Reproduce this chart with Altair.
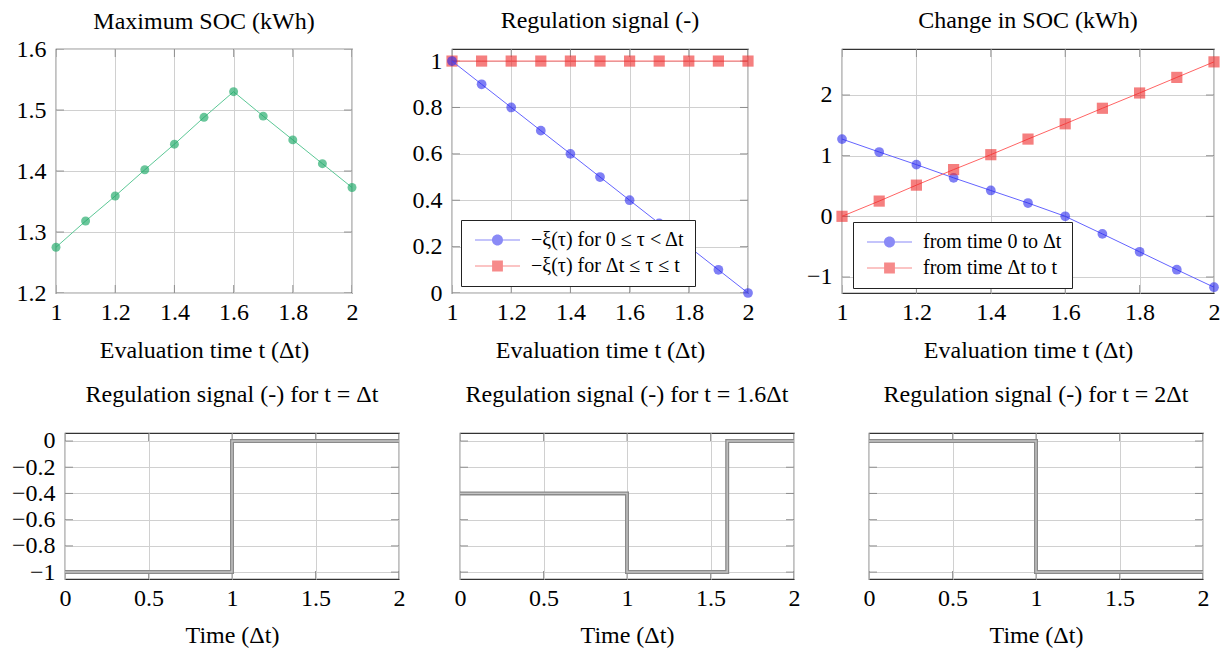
import altair as alt
import pandas as pd

FONT = "Liberation Serif"
FS = 24
LEG_FS = 20

# ---------------- data ----------------
eval_time = [1.0, 1.1, 1.2, 1.3, 1.4, 1.5, 1.6, 1.7, 1.8, 1.9, 2.0]
max_soc = [1.275, 1.318, 1.359, 1.402, 1.444, 1.488, 1.530, 1.490, 1.451, 1.412, 1.373]
reg_first = [1.0, 0.9, 0.8, 0.7, 0.6, 0.5, 0.4, 0.3, 0.2, 0.1, 0.0]
reg_rest = [1.0, 1.0, 1.0, 1.0, 1.0, 1.0, 1.0, 1.0, 1.0, 1.0, 1.0]
soc_first = [1.273, 1.060, 0.852, 0.634, 0.426, 0.219, 0.0, -0.290, -0.585, -0.880, -1.169]
soc_rest = [0.0, 0.251, 0.514, 0.770, 1.016, 1.273, 1.525, 1.781, 2.033, 2.290, 2.546]
legend_reg = ["\u2212\u03be(\u03c4) for 0 \u2264 \u03c4 < \u0394t", "\u2212\u03be(\u03c4) for \u0394t \u2264 \u03c4 \u2264 t"]
legend_soc = ["from time 0 to \u0394t", "from time \u0394t to t"]

step_time_a = [0.0, 1.0, 2.0]
step_sig_a = [-1.0, 0.0, 0.0]
step_time_b = [0.0, 1.0, 1.6, 2.0]
step_sig_b = [-0.4, -1.0, 0.0, 0.0]
step_time_c = [0.0, 1.0, 2.0]
step_sig_c = [0.0, -1.0, -1.0]

top_x_ticks = [1, 1.2, 1.4, 1.6, 1.8, 2]
soc_max_ticks = [1.2, 1.3, 1.4, 1.5, 1.6]
reg_ticks = [0, 0.2, 0.4, 0.6, 0.8, 1]
soc_change_ticks = [-1, 0, 1, 2]
bottom_x_ticks = [0, 0.5, 1, 1.5, 2]
bottom_y_ticks = [0, -0.2, -0.4, -0.6, -0.8, -1]

top_titles = ["Maximum SOC (kWh)", "Regulation signal (-)", "Change in SOC (kWh)"]
bottom_titles = ["Regulation signal (-) for t = \u0394t",
                 "Regulation signal (-) for t = 1.6\u0394t",
                 "Regulation signal (-) for t = 2\u0394t"]
top_xtitle = "Evaluation time t (\u0394t)"
bottom_xtitle = "Time (\u0394t)"

# ---------------- styles ----------------
GREEN = "#1aa865"
GREEN_LINE = "#5cc896"
BLUE = "#2a2aee"
BLUE_LINE = "#6464ff"
RED = "#ee2a2a"
RED_LINE = "#ff6464"
GRID = "#d0d0d0"
TICK = "#707070"
STEP_OUT = "#8a8a8a"
STEP_IN = "#c4c4c4"


# custom legend symbols: line + marker, unit = sqrt(size)/2 px
def circle_path(cx, r):
    return (f"M-1,-0.09 L6.5,-0.09 L6.5,0.09 L-1,0.09 Z "
            f"M{cx + r},0 A{r},{r} 0 1,1 {cx - r},0 A{r},{r} 0 1,1 {cx + r},0 Z")


def square_path(cx, h):
    return (f"M-1,-0.09 L6.5,-0.09 L6.5,0.09 L-1,0.09 Z "
            f"M{cx - h},{-h} L{cx + h},{-h} L{cx + h},{h} L{cx - h},{h} Z")


PATH_CIRCLE = circle_path(2.75, 0.92)
PATH_SQUARE = square_path(2.75, 0.9)


def scales(xdom, ydom, xticks, yticks, xtitle, ylabels, title_y):
    xs = alt.Scale(domain=xdom, nice=False, zero=False)
    ys = alt.Scale(domain=ydom, nice=False, zero=False)
    xa = alt.Axis(values=xticks, format="~g", title=xtitle, titleY=title_y,
                  titleBaseline="alphabetic", grid=True)
    ya = alt.Axis(values=yticks, format="~g", title=None, labels=ylabels, grid=True)
    return xs, ys, xa, ya


def enc(xs, ys, xa, ya):
    return dict(x=alt.X("x:Q", scale=xs, axis=xa), y=alt.Y("y:Q", scale=ys, axis=ya))


def frame_ticks(xs, ys, xa, ya, xdom, ydom, xticks, yticks):
    dx = pd.DataFrame({"x": xticks})
    dy = pd.DataFrame({"y": yticks})
    layers = []
    for yd in ydom:
        layers.append(
            alt.Chart(dx).mark_tick(orient="vertical", size=16, thickness=1, color=TICK, clip=True).encode(
                x=alt.X("x:Q", scale=xs, axis=xa),
                y=alt.YDatum(yd, type="quantitative", scale=ys, axis=ya)))
    for xd in xdom:
        layers.append(
            alt.Chart(dy).mark_tick(orient="horizontal", size=16, thickness=1, color=TICK, clip=True).encode(
                x=alt.XDatum(xd, type="quantitative", scale=xs, axis=xa),
                y=alt.Y("y:Q", scale=ys, axis=ya)))
    return layers


def title(text, offset):
    return alt.TitleParams(text=text, font=FONT, fontSize=FS, fontWeight="normal", color="black",
                           offset=offset, baseline="alphabetic", anchor="middle")


def legend(lx, ly):
    return alt.Legend(title=None, orient="none", legendX=lx, legendY=ly, padding=10, rowPadding=6,
                      labelOffset=40, labelFont=FONT, labelFontSize=LEG_FS, labelColor="black",
                      labelLimit=600, fillColor="white", strokeColor="#222222", cornerRadius=0,
                      symbolSize=144, symbolOpacity=0.55, symbolStrokeWidth=0, zindex=3)


def legend_layer(labels, lx, ly):
    L = legend(lx, ly)
    return alt.Chart(pd.DataFrame({"s": labels})).transform_filter("false").mark_point(
        filled=True, size=144, opacity=0.55, strokeWidth=0).encode(
        shape=alt.Shape("s:N", scale=alt.Scale(domain=labels, range=[PATH_CIRCLE, PATH_SQUARE]), legend=L),
        color=alt.Color("s:N", scale=alt.Scale(domain=labels, range=[BLUE, RED]), legend=L),
    )


TOP_W, TOP_H = 296, 244
BOT_W, BOT_H = 334, 146

# ---------------- panel 1 ----------------
dom_x1 = [1, 2]
dom_y1 = [1.2, 1.6]
xs, ys, xa, ya = scales(dom_x1, dom_y1, top_x_ticks, soc_max_ticks, top_xtitle, True, 64)
e = enc(xs, ys, xa, ya)
d1 = pd.DataFrame({"x": eval_time, "y": max_soc})
p1 = alt.layer(
    *frame_ticks(xs, ys, xa, ya, dom_x1, dom_y1, top_x_ticks, soc_max_ticks),
    alt.Chart(d1).mark_line(color=GREEN_LINE, strokeWidth=1).encode(**e),
    alt.Chart(d1).mark_circle(color=GREEN, opacity=0.65, size=80).encode(**e),
).properties(width=TOP_W, height=TOP_H, title=title(top_titles[0], -16))

# ---------------- panel 2 ----------------
dom_x2 = [1, 2]
dom_y2 = [0, 1.052]
xs, ys, xa, ya = scales(dom_x2, dom_y2, top_x_ticks, reg_ticks, top_xtitle, True, 64)
e = enc(xs, ys, xa, ya)
d2a = pd.DataFrame({"x": eval_time, "y": reg_first})
d2b = pd.DataFrame({"x": eval_time, "y": reg_rest})
p2 = alt.layer(
    *frame_ticks(xs, ys, xa, ya, dom_x2, dom_y2, top_x_ticks, reg_ticks),
    alt.Chart(d2b).mark_line(color=RED_LINE, strokeWidth=1).encode(**e),
    alt.Chart(d2b).mark_square(color=RED, opacity=0.6, size=125).encode(**e),
    alt.Chart(d2a).mark_line(color=BLUE_LINE, strokeWidth=1).encode(**e),
    alt.Chart(d2a).mark_circle(color=BLUE, opacity=0.6, size=95).encode(**e),
    legend_layer(legend_reg, 9, 171),
).properties(width=TOP_W, height=TOP_H, title=title(top_titles[1], -3))

# ---------------- panel 3 ----------------
dom_x3 = [1, 2]
dom_y3 = [-1.264, 2.758]
xs, ys, xa, ya = scales(dom_x3, dom_y3, top_x_ticks, soc_change_ticks, top_xtitle, True, 64)
e = enc(xs, ys, xa, ya)
d3a = pd.DataFrame({"x": eval_time, "y": soc_first})
d3b = pd.DataFrame({"x": eval_time, "y": soc_rest})
p3 = alt.layer(
    *frame_ticks(xs, ys, xa, ya, dom_x3, dom_y3, top_x_ticks, soc_change_ticks),
    alt.Chart(d3a).mark_line(color=BLUE_LINE, strokeWidth=1).encode(**e),
    alt.Chart(d3a).mark_circle(color=BLUE, opacity=0.6, size=95).encode(**e),
    alt.Chart(d3b).mark_line(color=RED_LINE, strokeWidth=1).encode(**e),
    alt.Chart(d3b).mark_square(color=RED, opacity=0.6, size=125).encode(**e),
    legend_layer(legend_soc, 11, 173),
).properties(width=372, height=TOP_H, title=title(top_titles[2], -3))


# ---------------- bottom panels ----------------
def step_panel(times, sig, ttl, ylabels, toff):
    dom_x = [0, 2]
    dom_y = [-1.053, 0.061]
    xs, ys, xa, ya = scales(dom_x, dom_y, bottom_x_ticks, bottom_y_ticks, bottom_xtitle, ylabels, 63)
    e = enc(xs, ys, xa, ya)
    d = pd.DataFrame({"x": times, "y": sig})
    return alt.layer(
        *frame_ticks(xs, ys, xa, ya, dom_x, dom_y, bottom_x_ticks, bottom_y_ticks),
        alt.Chart(d).mark_line(interpolate="step-after", color=STEP_OUT, strokeWidth=4).encode(**e),
        alt.Chart(d).mark_line(interpolate="step-after", color=STEP_IN, strokeWidth=1.4).encode(**e),
    ).properties(width=BOT_W, height=BOT_H, title=title(ttl, toff))


p4 = step_panel(step_time_a, step_sig_a, bottom_titles[0], True, 3)
p5 = step_panel(step_time_b, step_sig_b, bottom_titles[1], False, 7)
p6 = step_panel(step_time_c, step_sig_c, bottom_titles[2], False, 7)

spacer = alt.Chart(pd.DataFrame({"x": [0]})).mark_point(opacity=0).encode(
    x=alt.X("x:Q", axis=None), y=alt.Y("x:Q", axis=None)
).properties(width=1, height=BOT_H, view=alt.ViewBackground(stroke="transparent"))

IND = dict(color="independent", shape="independent")

inner_top = alt.hconcat(p2, p3, spacing=94, bounds="flush").resolve_scale(**IND).resolve_legend(**IND)
top = alt.hconcat(p1, inner_top, spacing=100, bounds="flush").resolve_scale(**IND).resolve_legend(**IND)
bottom = alt.hconcat(
    spacer,
    alt.hconcat(p4, alt.hconcat(p5, p6, spacing=75, bounds="flush"), spacing=61, bounds="flush"),
    spacing=8, bounds="flush")

chart = alt.vconcat(top, bottom, spacing=TOP_H + 140, bounds="flush").resolve_scale(**IND).resolve_legend(
    **IND
).properties(
    padding={"left": 2, "top": 0, "right": 0, "bottom": 0}
).configure_view(
    stroke="#333333", strokeWidth=1.2
).configure_axis(
    labelFont=FONT, labelFontSize=FS, labelColor="black",
    titleFont=FONT, titleFontSize=FS, titleFontWeight="normal", titleColor="black",
    gridColor=GRID, gridWidth=1, domain=False, ticks=False, tickSize=0,
    labelFlush=False, labelOverlap=False,
).configure_axisX(labelPadding=7).configure_axisY(labelPadding=10)

chart.save("out.html", embed_options={"renderer": "svg", "actions": False})
